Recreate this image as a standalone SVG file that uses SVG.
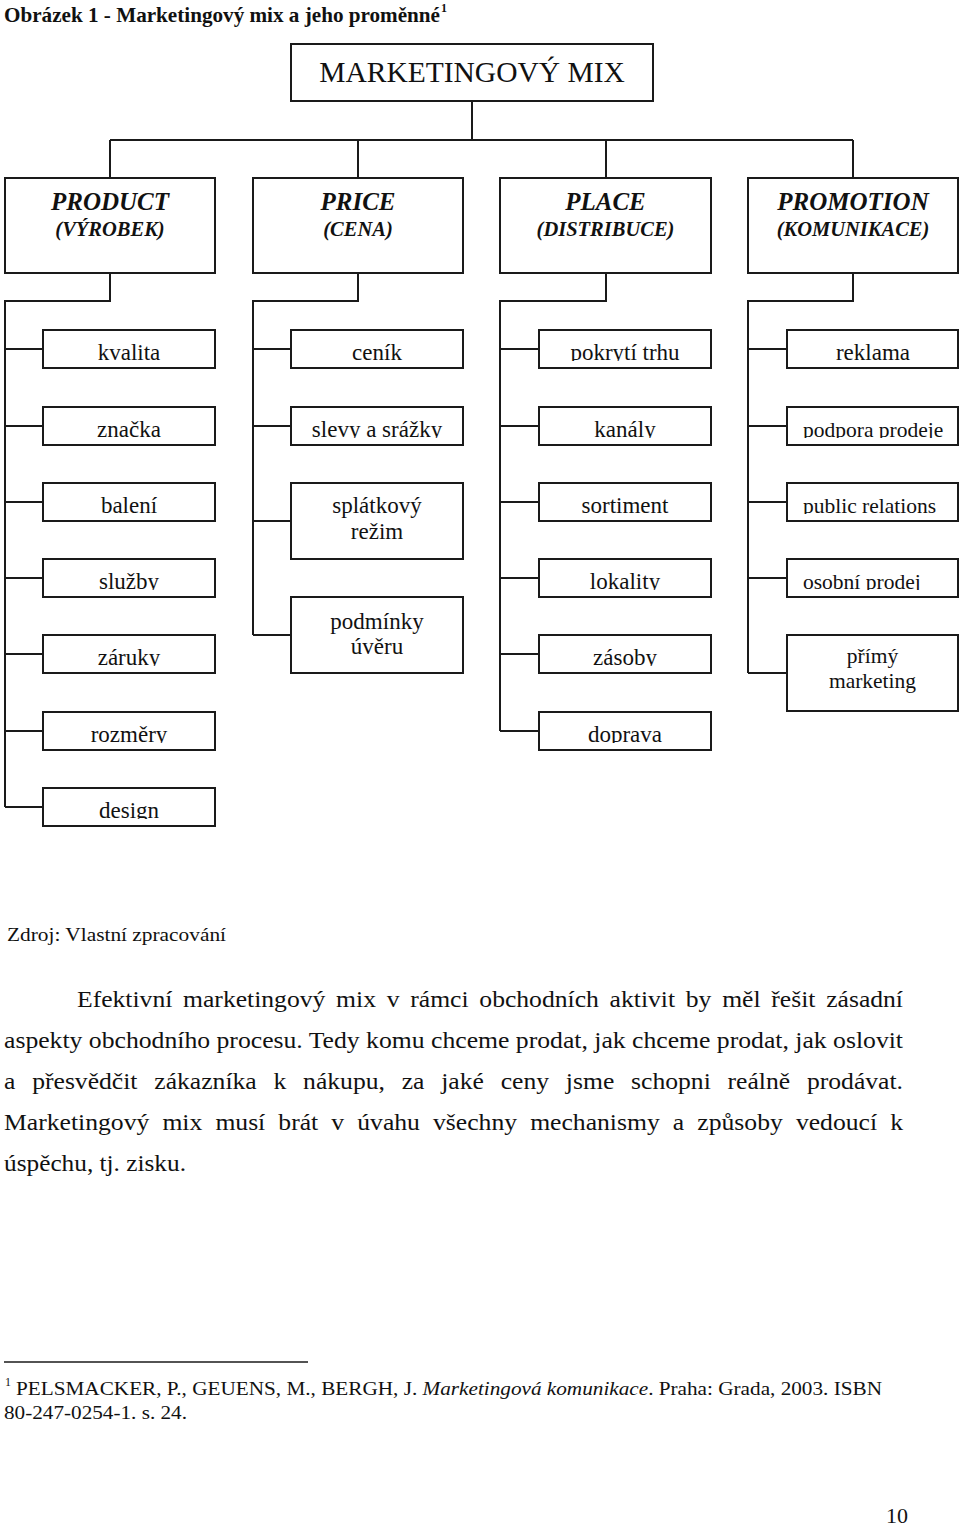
<svg xmlns="http://www.w3.org/2000/svg" width="960" height="1525" viewBox="0 0 960 1525">
<style>
  text { font-family: "Liberation Serif", "Times New Roman", serif; fill: #111; }
  .box { fill: #fff; stroke: #1a1a1a; stroke-width: 2; }
  .conn { fill: none; stroke: #1a1a1a; stroke-width: 2; }
  .top { font-size: 29.5px; text-anchor: middle; }
  .h1 { font-size: 25px; font-weight: bold; font-style: italic; text-anchor: middle; }
  .h2 { font-size: 20.5px; font-weight: bold; font-style: italic; text-anchor: middle; }
  .it { font-size: 23px; text-anchor: middle; }
  .its { font-size: 21.5px; }
  .para { font-size: 23px; }
  .small { font-size: 19px; }
</style>
<defs>
  <clipPath id="r1"><rect x="0" y="330" width="960" height="31"/></clipPath>
  <clipPath id="r2"><rect x="0" y="407" width="960" height="31"/></clipPath>
  <clipPath id="r3"><rect x="0" y="483" width="960" height="31"/></clipPath>
  <clipPath id="r4"><rect x="0" y="559" width="960" height="31"/></clipPath>
  <clipPath id="r5"><rect x="0" y="635" width="960" height="31"/></clipPath>
  <clipPath id="r6"><rect x="0" y="712" width="960" height="31"/></clipPath>
  <clipPath id="r7"><rect x="0" y="788" width="960" height="31"/></clipPath>
</defs>

<g id="caption">
  <text x="4" y="22" font-size="21" font-weight="bold" textLength="436" lengthAdjust="spacingAndGlyphs">Obrázek 1 - Marketingový mix a jeho proměnné</text>
  <text x="441" y="12" font-size="12" font-weight="bold">1</text>
</g>

<g id="connectors">
  <path class="conn" d="M472,101 V140 M110,140 H853 M110,140 V178 M358,140 V178 M606,140 V178 M853,140 V178"/>
  <path class="conn" d="M110,273 V301 H5 V807 M5,349 H43 M5,426 H43 M5,502 H43 M5,578 H43 M5,654 H43 M5,731 H43 M5,807 H43"/>
  <path class="conn" d="M358,273 V301 H253 V635 M253,349 H291 M253,426 H291 M253,521 H291 M253,635 H291"/>
  <path class="conn" d="M606,273 V301 H500 V731 M500,349 H539 M500,426 H539 M500,502 H539 M500,578 H539 M500,654 H539 M500,731 H539"/>
  <path class="conn" d="M853,273 V301 H748 V673 M748,349 H787 M748,426 H787 M748,502 H787 M748,578 H787 M748,673 H787"/>
</g>

<g id="n-mix"><rect class="box" x="291" y="44" width="362" height="57"/><text class="top" x="472" y="82">MARKETINGOVÝ MIX</text></g>

<g id="n-product"><rect class="box" x="5" y="178" width="210" height="95"/><text class="h1" x="110" y="210">PRODUCT</text><text class="h2" x="110" y="236">(VÝROBEK)</text></g>
<g id="n-price"><rect class="box" x="253" y="178" width="210" height="95"/><text class="h1" x="358" y="210">PRICE</text><text class="h2" x="358" y="236">(CENA)</text></g>
<g id="n-place"><rect class="box" x="500" y="178" width="211" height="95"/><text class="h1" x="605.5" y="210">PLACE</text><text class="h2" x="605.5" y="236">(DISTRIBUCE)</text></g>
<g id="n-promotion"><rect class="box" x="748" y="178" width="210" height="95"/><text class="h1" x="853" y="210">PROMOTION</text><text class="h2" x="853" y="236">(KOMUNIKACE)</text></g>

<g id="n-kvalita"><rect class="box" x="43" y="330" width="172" height="38"/><text class="it" x="129" y="360" clip-path="url(#r1)">kvalita</text></g>
<g id="n-znacka"><rect class="box" x="43" y="407" width="172" height="38"/><text class="it" x="129" y="437" clip-path="url(#r2)">značka</text></g>
<g id="n-baleni"><rect class="box" x="43" y="483" width="172" height="38"/><text class="it" x="129" y="513" clip-path="url(#r3)">balení</text></g>
<g id="n-sluzby"><rect class="box" x="43" y="559" width="172" height="38"/><text class="it" x="129" y="589" clip-path="url(#r4)">služby</text></g>
<g id="n-zaruky"><rect class="box" x="43" y="635" width="172" height="38"/><text class="it" x="129" y="665" clip-path="url(#r5)">záruky</text></g>
<g id="n-rozmery"><rect class="box" x="43" y="712" width="172" height="38"/><text class="it" x="129" y="742" clip-path="url(#r6)">rozměry</text></g>
<g id="n-design"><rect class="box" x="43" y="788" width="172" height="38"/><text class="it" x="129" y="818" clip-path="url(#r7)">design</text></g>

<g id="n-cenik"><rect class="box" x="291" y="330" width="172" height="38"/><text class="it" x="377" y="360" clip-path="url(#r1)">ceník</text></g>
<g id="n-slevy"><rect class="box" x="291" y="407" width="172" height="38"/><text class="it" x="377" y="437" clip-path="url(#r2)">slevy a srážky</text></g>
<g id="n-splatkovy"><rect class="box" x="291" y="483" width="172" height="76"/><text class="it" x="377" y="513">splátkový</text><text class="it" x="377" y="539">režim</text></g>
<g id="n-podminky"><rect class="box" x="291" y="597" width="172" height="76"/><text class="it" x="377" y="629">podmínky</text><text class="it" x="377" y="654">úvěru</text></g>

<g id="n-pokryti"><rect class="box" x="539" y="330" width="172" height="38"/><text class="it" x="625" y="360" clip-path="url(#r1)">pokrytí trhu</text></g>
<g id="n-kanaly"><rect class="box" x="539" y="407" width="172" height="38"/><text class="it" x="625" y="437" clip-path="url(#r2)">kanály</text></g>
<g id="n-sortiment"><rect class="box" x="539" y="483" width="172" height="38"/><text class="it" x="625" y="513" clip-path="url(#r3)">sortiment</text></g>
<g id="n-lokality"><rect class="box" x="539" y="559" width="172" height="38"/><text class="it" x="625" y="589" clip-path="url(#r4)">lokality</text></g>
<g id="n-zasoby"><rect class="box" x="539" y="635" width="172" height="38"/><text class="it" x="625" y="665" clip-path="url(#r5)">zásoby</text></g>
<g id="n-doprava"><rect class="box" x="539" y="712" width="172" height="38"/><text class="it" x="625" y="742" clip-path="url(#r6)">doprava</text></g>

<g id="n-reklama"><rect class="box" x="787" y="330" width="171" height="38"/><text class="it" x="873" y="360" clip-path="url(#r1)">reklama</text></g>
<g id="n-podpora"><rect class="box" x="787" y="407" width="171" height="38"/><text class="its" x="803" y="437" clip-path="url(#r2)">podpora prodeje</text></g>
<g id="n-pr"><rect class="box" x="787" y="483" width="171" height="38"/><text class="its" x="803" y="513" clip-path="url(#r3)">public relations</text></g>
<g id="n-osobni"><rect class="box" x="787" y="559" width="171" height="38"/><text class="its" x="803" y="589" clip-path="url(#r4)">osobní prodej</text></g>
<g id="n-primy"><rect class="box" x="787" y="635" width="171" height="76"/><text class="its" x="872.5" y="663" text-anchor="middle">přímý</text><text class="its" x="872.5" y="688" text-anchor="middle">marketing</text></g>

<g id="source">
  <text class="small" x="7" y="941" textLength="219" lengthAdjust="spacingAndGlyphs">Zdroj: Vlastní zpracování</text>
</g>

<g id="paragraph">
  <text class="para" x="77" y="1007" word-spacing="3.9" textLength="826" lengthAdjust="spacingAndGlyphs">Efektivní marketingový mix v rámci obchodních aktivit by měl řešit zásadní</text>
  <text class="para" x="4" y="1048" textLength="899" lengthAdjust="spacingAndGlyphs">aspekty obchodního procesu. Tedy komu chceme prodat, jak chceme prodat, jak oslovit</text>
  <text class="para" x="4" y="1089" word-spacing="9.3" textLength="899" lengthAdjust="spacingAndGlyphs">a přesvědčit zákazníka k nákupu, za jaké ceny jsme schopni reálně prodávat.</text>
  <text class="para" x="4" y="1130" word-spacing="6" textLength="899" lengthAdjust="spacingAndGlyphs">Marketingový mix musí brát v úvahu všechny mechanismy a způsoby vedoucí k</text>
  <text class="para" x="4" y="1171" textLength="182" lengthAdjust="spacingAndGlyphs">úspěchu, tj. zisku.</text>
</g>

<g id="footnote">
  <line x1="4" y1="1362" x2="308" y2="1362" stroke="#1a1a1a" stroke-width="1.5"/>
  <text x="5" y="1386" font-size="12">1</text>
  <text class="small" x="16" y="1395" textLength="866" lengthAdjust="spacingAndGlyphs">PELSMACKER, P., GEUENS, M., BERGH, J. <tspan font-style="italic">Marketingová komunikace</tspan>. Praha: Grada, 2003. ISBN</text>
  <text class="small" x="4" y="1419" textLength="183" lengthAdjust="spacingAndGlyphs">80-247-0254-1. s. 24.</text>
</g>

<g id="page-number">
  <text x="886" y="1523" font-size="22" textLength="22" lengthAdjust="spacingAndGlyphs">10</text>
</g>
</svg>
